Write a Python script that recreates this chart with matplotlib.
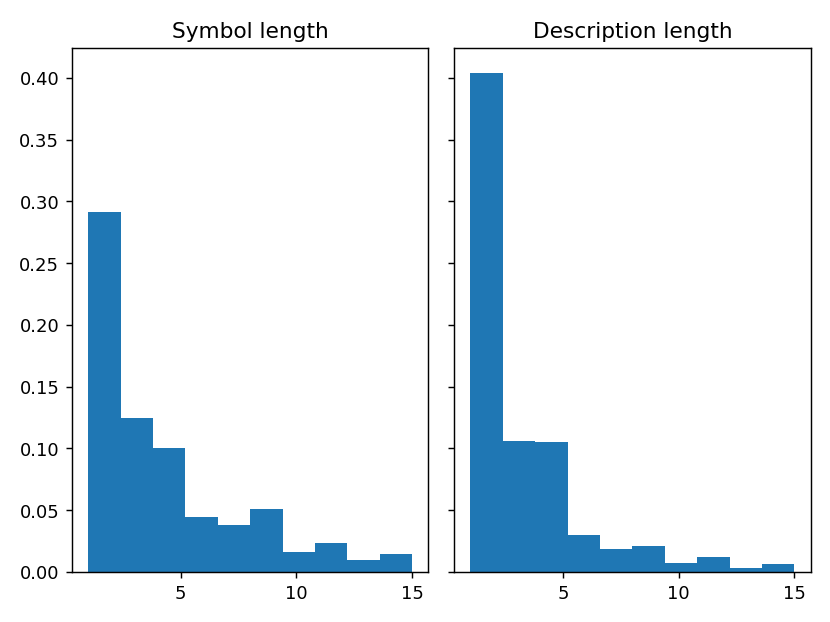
import numpy as np
import matplotlib
matplotlib.use("Agg")
import matplotlib.pyplot as plt

# bin edges shared by both histograms (10 bins between 1 and 15)
edges = np.linspace(1, 15, 11)

# density of each bin
symbolDensity = [0.291, 0.1248, 0.1006, 0.0441, 0.0377, 0.0511, 0.0159, 0.0236, 0.0097, 0.0140]
descriptionDensity = [0.404, 0.1062, 0.1051, 0.0296, 0.0183, 0.0207, 0.0073, 0.0118, 0.0030, 0.0059]

centers = (edges[:-1] + edges[1:]) / 2

fig, (ax1, ax2) = plt.subplots(1, 2, sharey=True, figsize=(6.4, 4.8))
ax1.hist(centers, bins=edges, weights=symbolDensity)
ax1.set_title("Symbol length")
ax2.hist(centers, bins=edges, weights=descriptionDensity)
ax2.set_title("Description length")
ax1.set_xticks([5, 10, 15])
ax2.set_xticks([5, 10, 15])
plt.tight_layout()
plt.savefig("out.png", dpi=129.7)
